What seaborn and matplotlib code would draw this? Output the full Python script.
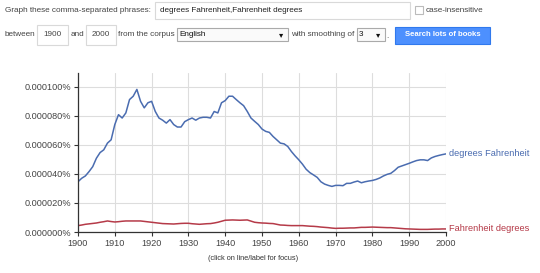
import matplotlib
matplotlib.use("Agg")
import matplotlib.pyplot as plt
from matplotlib.patches import Rectangle
from matplotlib.ticker import FuncFormatter
import pandas as pd
import seaborn as sns

# values in millionths of a percent (1e-6 %)
years = list(range(1900, 2001))
degrees_fahrenheit = [
    34.6, 37.0, 38.6, 41.6, 45.0, 50.8, 54.7, 56.6, 61.2, 63.5,
    74.0, 80.8, 78.5, 82.0, 91.2, 93.5, 98.2, 90.0, 85.5, 89.0,
    90.0, 83.0, 78.5, 77.0, 75.0, 77.4, 74.0, 72.3, 72.3, 76.0,
    77.4, 78.5, 77.0, 78.5, 79.0, 79.0, 78.5, 83.0, 82.0, 89.0,
    90.5, 93.5, 93.5, 91.2, 89.0, 87.0, 83.0, 78.5, 76.2, 74.0,
    70.9, 69.3, 68.6, 65.8, 63.5, 61.2, 60.7, 58.9, 55.4, 52.4,
    49.7, 46.7, 43.2, 40.9, 39.3, 37.6, 34.6, 33.0, 32.1, 31.4,
    32.1, 32.1, 31.9, 33.5, 33.5, 34.4, 35.1, 33.9, 34.6, 35.1,
    35.5, 36.2, 37.2, 38.6, 39.7, 40.4, 42.3, 44.6, 45.5, 46.4,
    47.3, 48.3, 49.2, 49.7, 49.7, 49.2, 51.0, 52.0, 52.7, 53.3,
    53.8,
]
fahrenheit_degrees = [
    4.4, 4.8, 5.3, 5.6, 5.9, 6.2, 6.7, 7.1, 7.6, 7.2,
    6.9, 7.1, 7.4, 7.6, 7.6, 7.6, 7.6, 7.6, 7.3, 7.0,
    6.7, 6.4, 6.1, 5.8, 5.7, 5.6, 5.5, 5.7, 5.9, 6.0,
    6.0, 5.7, 5.5, 5.3, 5.5, 5.7, 5.8, 6.2, 6.7, 7.4,
    8.1, 8.2, 8.3, 8.2, 8.1, 8.2, 8.3, 7.5, 6.7, 6.4,
    6.2, 6.1, 5.9, 5.8, 5.3, 4.8, 4.7, 4.5, 4.4, 4.4,
    4.4, 4.4, 4.2, 4.0, 3.9, 3.7, 3.4, 3.2, 3.0, 2.7,
    2.5, 2.6, 2.6, 2.7, 2.8, 2.8, 3.0, 3.2, 3.2, 3.3,
    3.4, 3.3, 3.2, 3.1, 3.0, 3.0, 2.8, 2.6, 2.4, 2.2,
    2.1, 2.0, 1.9, 1.8, 1.8, 1.8, 1.9, 2.0, 2.0, 2.1,
    2.1,
]
phrases = ["degrees Fahrenheit", "Fahrenheit degrees"]
colors = ["#4a6cb0", "#b53a48"]
x_ticks = list(range(1900, 2001, 10))
y_ticks = [0, 20, 40, 60, 80, 100]

df = pd.DataFrame({
    "year": years * 2,
    "value": degrees_fahrenheit + fahrenheit_degrees,
    "phrase": [phrases[0]] * len(years) + [phrases[1]] * len(years),
})

sns.set_style("white")
plt.rcParams["font.family"] = ["Liberation Sans", "DejaVu Sans"]

W, H = 540, 273
fig = plt.figure(figsize=(W / 100, H / 100), dpi=100)

def px(x, y):
    return x / W, 1 - y / H

ax = fig.add_axes([78 / W, 1 - 232 / H, 368 / W, 159 / H])
sns.lineplot(data=df, x="year", y="value", hue="phrase", palette=colors,
             hue_order=phrases, linewidth=1.1, ax=ax, legend=False)
ax.set_xlim(1900, 2000)
ax.set_ylim(0, 109.5)
ax.set_xticks(x_ticks)
ax.set_yticks(y_ticks)
ax.yaxis.set_major_formatter(FuncFormatter(lambda v, _: f"{v * 1e-6:.6f}%"))
ax.set_xlabel("")
ax.set_ylabel("")
ax.grid(True, color="#dddddd", linewidth=0.8)
ax.set_axisbelow(True)
for s in ["top", "right"]:
    ax.spines[s].set_visible(False)
for s in ["left", "bottom"]:
    ax.spines[s].set_color("#333333")
    ax.spines[s].set_linewidth(0.9)
ax.tick_params(axis="both", direction="out", length=3, width=0.8,
               color="#333333", labelsize=6.6, labelcolor="#444444", pad=2,
               left=True, bottom=True)

# end labels
ax.annotate(phrases[0], xy=(2000, degrees_fahrenheit[-1]), xytext=(2, 0),
            textcoords="offset points", va="center", ha="left",
            color=colors[0], fontsize=6.7, annotation_clip=False)
ax.annotate(phrases[1], xy=(2000, fahrenheit_degrees[-1]), xytext=(2, 0),
            textcoords="offset points", va="center", ha="left",
            color=colors[1], fontsize=6.7, annotation_clip=False)

fig.text(*px(253, 258), "(click on line/label for focus)", ha="center",
         va="center", fontsize=5.3, color="#333333")

# top form row 1
tc = "#444444"
fs = 5.85
fig.text(*px(5, 10.5), "Graph these comma-separated phrases:", ha="left",
         va="center", fontsize=fs, color=tc)

def box(x0, y0, x1, y1, fc="white", ec="#d9d9d9", lw=0.8):
    fig.patches.append(Rectangle((x0 / W, 1 - y1 / H), (x1 - x0) / W,
                                 (y1 - y0) / H, transform=fig.transFigure,
                                 facecolor=fc, edgecolor=ec, linewidth=lw))

box(155, 2, 410, 19)
fig.text(*px(160, 10.5), "degrees Fahrenheit,Fahrenheit degrees", ha="left",
         va="center", fontsize=fs, color="#222222")
box(415, 6, 423, 14, ec="#bbbbbb")
fig.text(*px(426, 10.5), "case-insensitive", ha="left", va="center",
         fontsize=fs, color=tc)

# row 2
fig.text(*px(5, 34.5), "between", ha="left", va="center", fontsize=fs, color=tc)
box(37, 25, 68, 45)
fig.text(*px(52.5, 34.5), "1900", ha="center", va="center", fontsize=fs, color=tc)
fig.text(*px(71, 34.5), "and", ha="left", va="center", fontsize=fs, color=tc)
box(86, 25, 116, 45)
fig.text(*px(101, 34.5), "2000", ha="center", va="center", fontsize=fs, color=tc)
fig.text(*px(118.5, 34.5), "from the corpus", ha="left", va="center",
         fontsize=fs, color=tc)
box(177, 28, 288, 41, fc="#fafafa", ec="#aaaaaa")
fig.text(*px(179, 34.5), "English", ha="left", va="center", fontsize=fs, color="#111111")
fig.text(*px(283, 34.5), "▾", ha="right", va="center", fontsize=6, color="#111111",
         family=["DejaVu Sans"])
fig.text(*px(291, 34.5), "with smoothing of", ha="left", va="center",
         fontsize=fs, color=tc)
box(357, 28, 385, 41, fc="#fafafa", ec="#aaaaaa")
fig.text(*px(359, 34.5), "3", ha="left", va="center", fontsize=fs, color="#111111")
fig.text(*px(380, 34.5), "▾", ha="right", va="center", fontsize=6, color="#111111",
         family=["DejaVu Sans"])
fig.text(*px(386, 36), ".", ha="left", va="center", fontsize=fs, color=tc)
box(395, 26.5, 490, 43.5, fc="#4d90fe", ec="#3079ed")
fig.text(*px(442.5, 35), "Search lots of books", ha="center", va="center",
         fontsize=5.6, color="white", fontweight="bold")

fig.savefig("out.png", dpi=100)
